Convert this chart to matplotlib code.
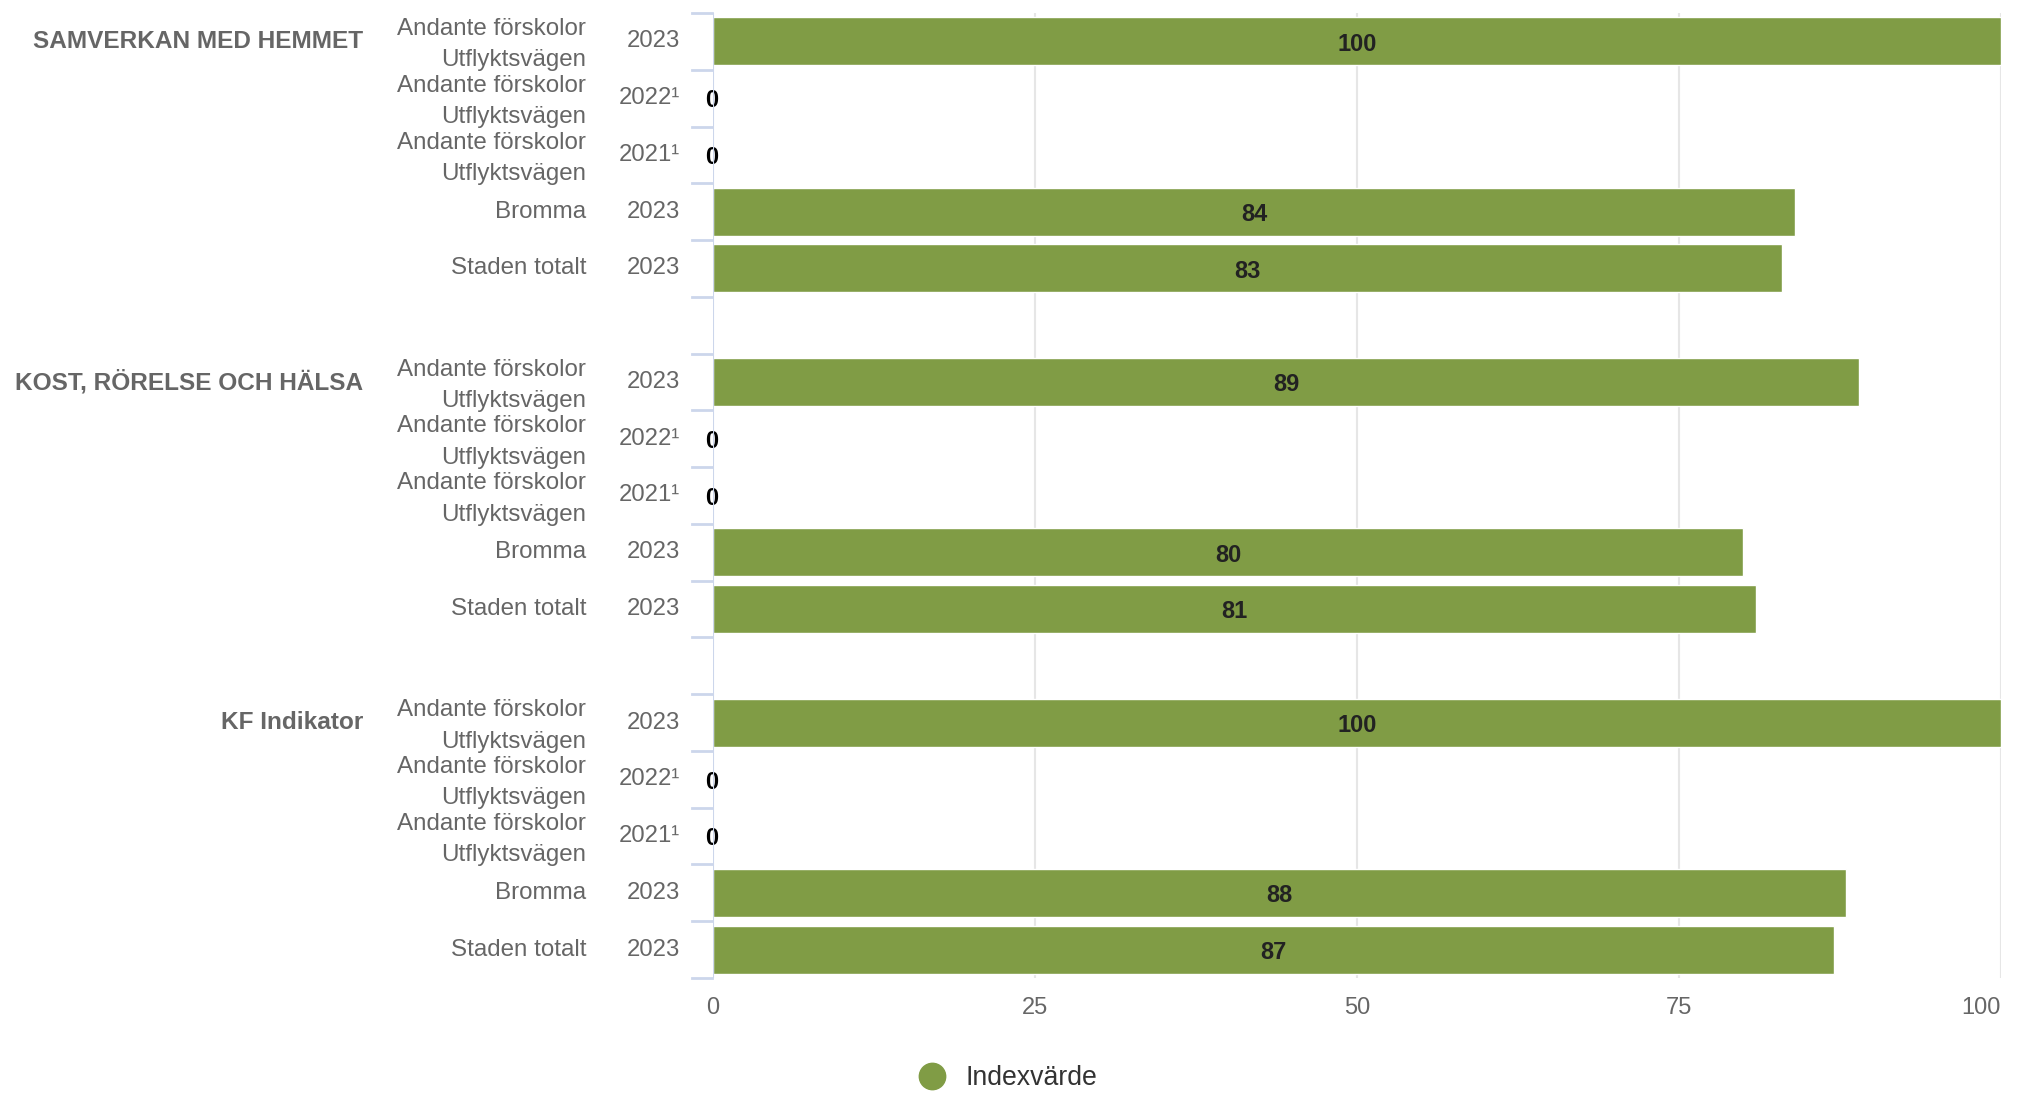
import matplotlib.pyplot as plt
from matplotlib.lines import Line2D
from matplotlib.transforms import blended_transform_factory

plt.rcParams['font.family'] = ['Liberation Sans', 'DejaVu Sans']

# Data
groups = ["SAMVERKAN MED HEMMET", "KOST, RÖRELSE OCH HÄLSA", "KF Indikator"]
units = ["Andante förskolor\nUtflyktsvägen", "Andante förskolor\nUtflyktsvägen",
         "Andante förskolor\nUtflyktsvägen", "Bromma", "Staden totalt"]
years = ["2023", "2022¹", "2021¹", "2023", "2023"]
values = [
    [100, 0, 0, 84, 83],
    [89, 0, 0, 80, 81],
    [100, 0, 0, 88, 87],
]
series_name = "Indexvärde"
xticks = [0, 25, 50, 75, 100]

green = '#809c45'
W, H = 2019, 1094
fig = plt.figure(figsize=(W / 100, H / 100), dpi=100)
ax = fig.add_axes([713 / W, 1 - 978 / H, (2001 - 713) / W, (978 - 13) / H])

# positions: one empty slot between groups
ypos = []
for g in range(len(groups)):
    ypos.append([g * 6 + i for i in range(len(units))])

for g, grp in enumerate(groups):
    ys = ypos[g]
    vals = values[g]
    ax.barh(ys, vals, height=0.845, color=green, edgecolor='white',
            linewidth=1, zorder=3)
    for y, v in zip(ys, vals):
        if v > 0:
            ax.text(v / 2, y + 0.05, str(v), ha='center', va='center',
                    fontsize=17, fontweight='bold', color='#222222', zorder=4)
        else:
            ax.text(-0.1, y + 0.05, str(v), ha='center', va='center',
                    fontsize=17, fontweight='bold', color='#000000', zorder=4)

ax.set_xlim(0, 100)
n_slots = len(groups) * 6 - 1
ax.set_ylim(n_slots - 0.5, -0.5)

# gridlines
for x in xticks[1:]:
    ax.axvline(x, color='#e6e6e6', lw=1.5, zorder=1)
ax.axvline(0, color='#ccd6eb', lw=1.5, zorder=5)

for s in ax.spines.values():
    s.set_visible(False)
ax.set_yticks([])
ax.set_xticks(xticks)
ax.set_xticklabels([str(t) for t in xticks])
ax.tick_params(axis='x', length=0, labelsize=17, labelcolor='#666666', pad=14)
ax.get_xticklabels()[-1].set_horizontalalignment('right')

# category boundary ticks
trans = blended_transform_factory(fig.transFigure, ax.transData)
for b in range(n_slots + 1):
    ax.plot([692 / W, 712 / W], [b - 0.5, b - 0.5], color='#ccd6eb', lw=2,
            transform=trans, clip_on=False)

# labels
for g, grp in enumerate(groups):
    ys = ypos[g]
    ax.text(363 / W, ys[0], grp, transform=trans, ha='right', va='center',
            fontsize=17.6, fontweight='bold', color='#666666')
    for y, u, yr in zip(ys, units, years):
        dy = 0.06 if '\n' in u else 0.0
        ax.text(586 / W, y + dy, u, transform=trans, ha='right', va='center',
                fontsize=17.4, color='#666666', linespacing=1.55)
        ax.text(680 / W, y, yr, transform=trans, ha='right', va='center',
                fontsize=17.2, color='#666666')

handle = Line2D([], [], marker='o', ls='', color=green, markersize=19)
fig.legend(handles=[handle], labels=[series_name], loc='center',
           bbox_to_anchor=(1001 / W, 1 - 1078 / H), frameon=False,
           fontsize=19.2, handletextpad=0.25, labelcolor='#333333')

fig.savefig('out.png', dpi=100)
